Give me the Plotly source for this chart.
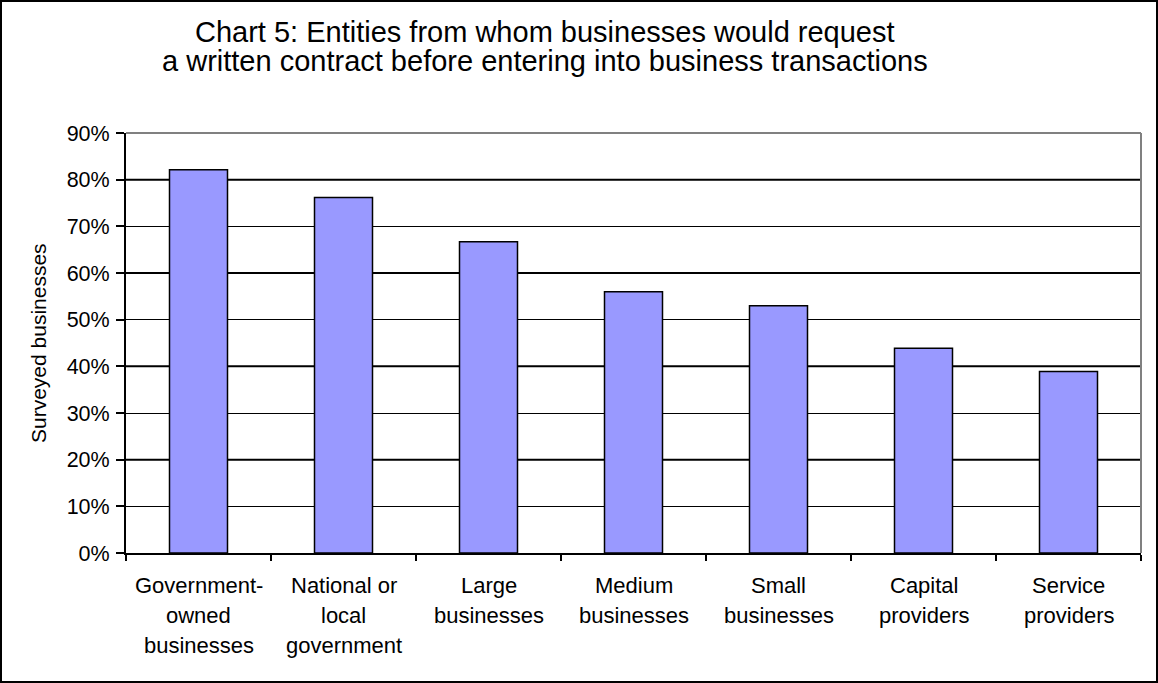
import plotly.graph_objects as go

# Survey results: share of businesses requesting a written contract, by counterparty
categories = [
    "Government-owned businesses",
    "National or local government",
    "Large businesses",
    "Medium businesses",
    "Small businesses",
    "Capital providers",
    "Service providers",
]
label_lines = [
    ["Government-", "owned", "businesses"],
    ["National or", "local", "government"],
    ["Large", "businesses"],
    ["Medium", "businesses"],
    ["Small", "businesses"],
    ["Capital", "providers"],
    ["Service", "providers"],
]
shares = [0.821, 0.762, 0.667, 0.560, 0.530, 0.439, 0.389]
y_ticks = [0, 0.1, 0.2, 0.3, 0.4, 0.5, 0.6, 0.7, 0.8, 0.9]
title_lines = [
    "Chart 5: Entities from whom businesses would request",
    "a written contract before entering into business transactions",
]

W, H = 1158, 683
L, R, T, B = 126, 17, 133, 130
PW, PH = W - L - R, H - T - B
FONT = "Liberation Sans, Arial, sans-serif"


def px_x(p):
    return (p - L) / PW


def px_y(p):
    return (H - B - p) / PH


fig = go.Figure(
    go.Bar(
        x=categories,
        y=shares,
        marker=dict(color="#9999FF", line=dict(color="black", width=1.5)),
        hoverinfo="x+y",
    )
)

shapes = []
# heavier rules on every second gridline
for v in y_ticks[2::2]:
    if v < 0.9:
        shapes.append(dict(type="line", xref="paper", yref="y", x0=0, x1=1, y0=v, y1=v,
                           line=dict(color="black", width=2), layer="below"))
# grey plot-area frame (top and right)
shapes.append(dict(type="line", xref="paper", yref="paper", x0=0, x1=1, y0=1, y1=1,
                   line=dict(color="#808080", width=2)))
shapes.append(dict(type="line", xref="paper", yref="paper", x0=1, x1=1, y0=0, y1=1,
                   line=dict(color="#808080", width=2)))
# outer chart border
shapes.append(dict(type="rect", xref="paper", yref="paper",
                   x0=px_x(1), x1=px_x(W - 1), y0=px_y(H - 1), y1=px_y(1),
                   line=dict(color="black", width=2)))

annotations = []
for i, line in enumerate(title_lines):
    annotations.append(dict(text=line, xref="paper", yref="paper", x=px_x(545), y=px_y(32 + 29 * i),
                            xanchor="center", yanchor="middle", showarrow=False,
                            font=dict(family=FONT, size=29, color="black")))
for cat, lines in zip(categories, label_lines):
    for j, line in enumerate(lines):
        annotations.append(dict(text=line, x=cat, xref="x", yref="paper", y=0,
                                yshift=-(32 + 30 * j), yanchor="middle", xanchor="center",
                                showarrow=False,
                                font=dict(family=FONT, size=22, color="black")))
annotations.append(dict(text="Surveyed businesses", xref="paper", yref="paper",
                        x=px_x(38), y=0.5, textangle=-90, xanchor="center", yanchor="middle",
                        showarrow=False, font=dict(family=FONT, size=21, color="black")))

fig.update_layout(
    width=W,
    height=H,
    margin=dict(l=L, r=R, t=T, b=B),
    paper_bgcolor="white",
    plot_bgcolor="white",
    bargap=0.6,
    showlegend=False,
    font=dict(family=FONT, size=21, color="black"),
    shapes=shapes,
    annotations=annotations,
    xaxis=dict(
        type="category",
        showticklabels=False,
        ticks="outside",
        tickson="boundaries",
        ticklen=6,
        tickwidth=2,
        tickcolor="black",
        showline=True,
        linecolor="black",
        linewidth=2,
        showgrid=False,
        zeroline=False,
        fixedrange=True,
    ),
    yaxis=dict(
        range=[0, 0.9],
        tickvals=y_ticks,
        tickformat=".0%",
        ticks="outside",
        ticklen=8,
        tickwidth=2,
        tickcolor="black",
        showline=True,
        linecolor="black",
        linewidth=2,
        showgrid=True,
        gridcolor="black",
        gridwidth=1,
        zeroline=False,
        tickfont=dict(family=FONT, size=21.5, color="black"),
        ticklabelstandoff=2,
        fixedrange=True,
    ),
)

fig.write_html("out.html", config={"displayModeBar": False})
